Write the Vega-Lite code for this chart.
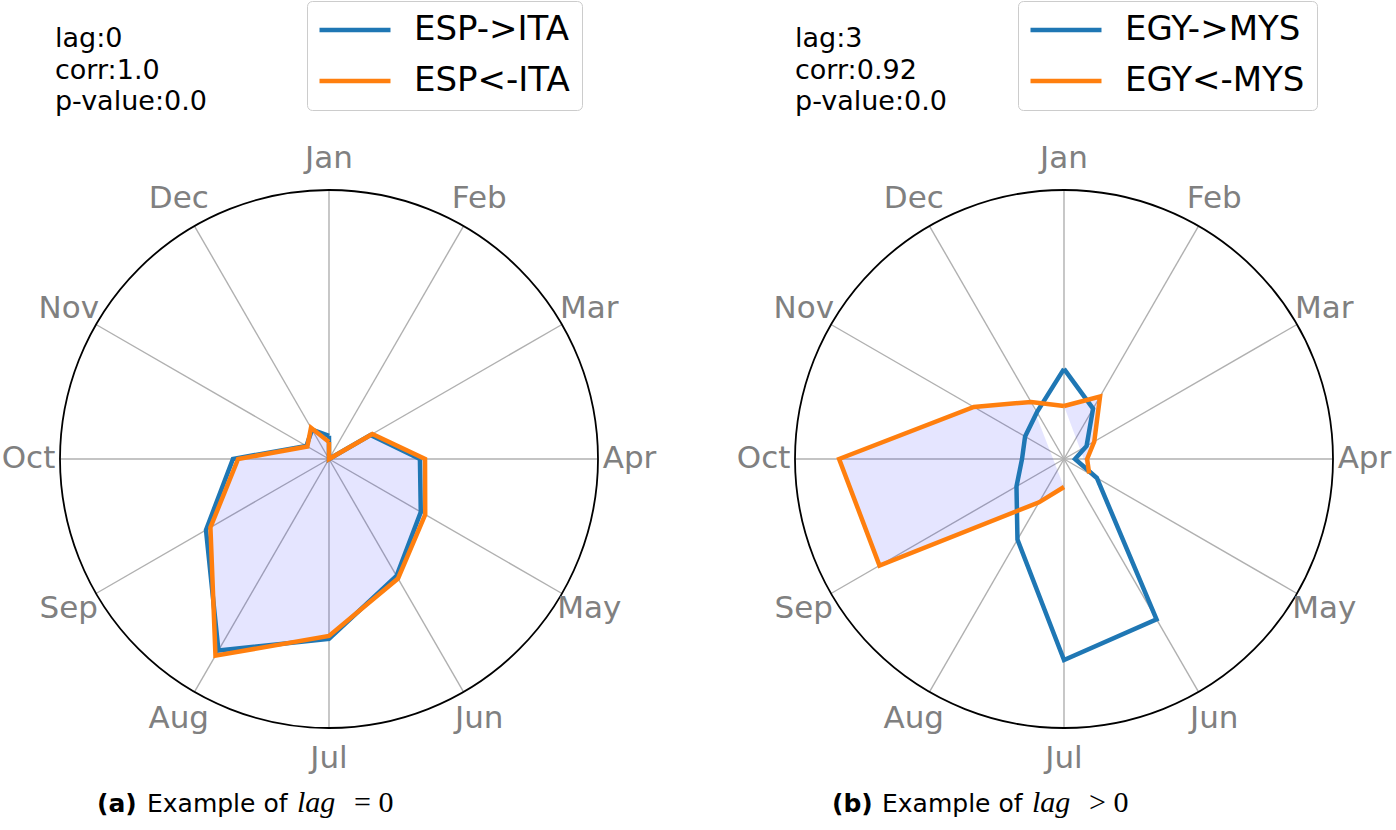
{
  "$schema": "https://vega.github.io/schema/vega-lite/v6.json",
  "background": "white",
  "padding": 0,
  "spacing": 0,
  "config": {"view": {"stroke": null}, "concat": {"spacing": 0}},
  "datasets": {
    "months": [
      {"m": "Jan", "i": 0}, {"m": "Feb", "i": 1}, {"m": "Mar", "i": 2}, {"m": "Apr", "i": 3},
      {"m": "May", "i": 4}, {"m": "Jun", "i": 5}, {"m": "Jul", "i": 6}, {"m": "Aug", "i": 7},
      {"m": "Sep", "i": 8}, {"m": "Oct", "i": 9}, {"m": "Nov", "i": 10}, {"m": "Dec", "i": 11}
    ],
    "esp": [
      {"m": "Jan", "i": 0, "s": "ESP->ITA", "v": 8.6},
      {"m": "Feb", "i": 1, "s": "ESP->ITA", "v": 0},
      {"m": "Mar", "i": 2, "s": "ESP->ITA", "v": 17.8},
      {"m": "Apr", "i": 3, "s": "ESP->ITA", "v": 33.8},
      {"m": "May", "i": 4, "s": "ESP->ITA", "v": 39.4},
      {"m": "Jun", "i": 5, "s": "ESP->ITA", "v": 50.2},
      {"m": "Jul", "i": 6, "s": "ESP->ITA", "v": 66.9},
      {"m": "Aug", "i": 7, "s": "ESP->ITA", "v": 82.2},
      {"m": "Sep", "i": 8, "s": "ESP->ITA", "v": 52.8},
      {"m": "Oct", "i": 9, "s": "ESP->ITA", "v": 35.7},
      {"m": "Nov", "i": 10, "s": "ESP->ITA", "v": 9.7},
      {"m": "Dec", "i": 11, "s": "ESP->ITA", "v": 12.6},
      {"m": "Jan", "i": 12, "s": "ESP->ITA", "v": 8.6},
      {"m": "Jan", "i": 0, "s": "ESP<-ITA", "v": 6.3},
      {"m": "Feb", "i": 1, "s": "ESP<-ITA", "v": 0},
      {"m": "Mar", "i": 2, "s": "ESP<-ITA", "v": 18.6},
      {"m": "Apr", "i": 3, "s": "ESP<-ITA", "v": 35.7},
      {"m": "May", "i": 4, "s": "ESP<-ITA", "v": 41.3},
      {"m": "Jun", "i": 5, "s": "ESP<-ITA", "v": 51.3},
      {"m": "Jul", "i": 6, "s": "ESP<-ITA", "v": 65.8},
      {"m": "Aug", "i": 7, "s": "ESP<-ITA", "v": 84.4},
      {"m": "Sep", "i": 8, "s": "ESP<-ITA", "v": 50.9},
      {"m": "Oct", "i": 9, "s": "ESP<-ITA", "v": 33.8},
      {"m": "Nov", "i": 10, "s": "ESP<-ITA", "v": 9.3},
      {"m": "Dec", "i": 11, "s": "ESP<-ITA", "v": 13.4},
      {"m": "Jan", "i": 12, "s": "ESP<-ITA", "v": 6.3}
    ],
    "egy": [
      {"m": "Jan", "i": 0, "s": "EGY->MYS", "v": 33.5},
      {"m": "Feb", "i": 1, "s": "EGY->MYS", "v": 21.6},
      {"m": "Mar", "i": 2, "s": "EGY->MYS", "v": 9.7},
      {"m": "Apr", "i": 3, "s": "EGY->MYS", "v": 4.1},
      {"m": "May", "i": 4, "s": "EGY->MYS", "v": 14.1},
      {"m": "Jun", "i": 5, "s": "EGY->MYS", "v": 68.8},
      {"m": "Jul", "i": 6, "s": "EGY->MYS", "v": 74.7},
      {"m": "Aug", "i": 7, "s": "EGY->MYS", "v": 34.6},
      {"m": "Sep", "i": 8, "s": "EGY->MYS", "v": 20.4},
      {"m": "Oct", "i": 9, "s": "EGY->MYS", "v": 15.6},
      {"m": "Nov", "i": 10, "s": "EGY->MYS", "v": 16.7},
      {"m": "Dec", "i": 11, "s": "EGY->MYS", "v": 20.1},
      {"m": "Jan", "i": 12, "s": "EGY->MYS", "v": 33.5},
      {"m": "Jan", "i": 0, "s": "EGY<-MYS", "v": 19.7},
      {"m": "Feb", "i": 1, "s": "EGY<-MYS", "v": 26.8},
      {"m": "Mar", "i": 2, "s": "EGY<-MYS", "v": 13.0},
      {"m": "Apr", "i": 3, "s": "EGY<-MYS", "v": 8.6},
      {"m": "May", "i": 4, "s": "EGY<-MYS", "v": 10.8},
      {"m": "Jun", "i": 5, "s": "EGY<-MYS", "v": null},
      {"m": "Jul", "i": 6, "s": "EGY<-MYS", "v": 10.4},
      {"m": "Aug", "i": 7, "s": "EGY<-MYS", "v": 18.6},
      {"m": "Sep", "i": 8, "s": "EGY<-MYS", "v": 79.2},
      {"m": "Oct", "i": 9, "s": "EGY<-MYS", "v": 83.6},
      {"m": "Nov", "i": 10, "s": "EGY<-MYS", "v": 38.7},
      {"m": "Dec", "i": 11, "s": "EGY<-MYS", "v": 24.5},
      {"m": "Jan", "i": 12, "s": "EGY<-MYS", "v": 19.7}
    ],
    "info_a": [{"t": "lag:0\ncorr:1.0\np-value:0.0"}],
    "info_b": [{"t": "lag:3\ncorr:0.92\np-value:0.0"}],
    "cap_a": [{"tag": "(a)", "lead": "Example of", "var": "lag", "rel": "= 0"}],
    "cap_b": [{"tag": "(b)", "lead": "Example of", "var": "lag", "rel": "> 0"}]
  },
  "hconcat": [
    {
      "width": 698,
      "height": 830,
      "layer": [
        {
          "data": {"name": "months"},
          "transform": [
            {"calculate": "0", "as": "cx"},
            {"calculate": "0", "as": "cy"},
            {"calculate": "sin(datum.i * PI / 6)", "as": "ex"},
            {"calculate": "cos(datum.i * PI / 6)", "as": "ey"}
          ],
          "mark": {"type": "rule", "color": "#b0b0b0", "strokeWidth": 1.4},
          "encoding": {
            "x": {"field": "cx", "type": "quantitative", "scale": {"domain": [-1.2230, 1.3717], "nice": false, "zero": false}, "axis": null},
            "y": {"field": "cy", "type": "quantitative", "scale": {"domain": [-1.3792, 1.7063], "nice": false, "zero": false}, "axis": null},
            "x2": {"field": "ex"},
            "y2": {"field": "ey"}
          }
        },
        {
          "data": {"values": [{}]},
          "mark": {"type": "point", "shape": "circle", "size": 289444, "filled": false, "stroke": "black", "strokeWidth": 1.8, "opacity": 1},
          "encoding": {
            "x": {"datum": 0, "type": "quantitative", "scale": {"domain": [-1.2230, 1.3717], "nice": false, "zero": false}, "axis": null},
            "y": {"datum": 0, "type": "quantitative", "scale": {"domain": [-1.3792, 1.7063], "nice": false, "zero": false}, "axis": null}
          }
        },
        {
          "data": {"name": "months"},
          "transform": [
            {"calculate": "1.117 * sin(datum.i * PI / 6)", "as": "lx"},
            {"calculate": "1.117 * cos(datum.i * PI / 6)", "as": "ly"}
          ],
          "mark": {"type": "text", "font": "DejaVu Sans", "fontSize": 31, "color": "#808080", "align": "center", "baseline": "middle"},
          "encoding": {
            "x": {"field": "lx", "type": "quantitative", "scale": {"domain": [-1.2230, 1.3717], "nice": false, "zero": false}, "axis": null},
            "y": {"field": "ly", "type": "quantitative", "scale": {"domain": [-1.3792, 1.7063], "nice": false, "zero": false}, "axis": null},
            "text": {"field": "m"}
          }
        },
        {
          "data": {"name": "esp"},
          "transform": [
            {"filter": "datum.s === 'ESP<-ITA' && datum.i < 12"},
            {"calculate": "datum.v === null ? null : datum.v / 100 * sin(datum.i * PI / 6)", "as": "px"},
            {"calculate": "datum.v === null ? null : datum.v / 100 * cos(datum.i * PI / 6)", "as": "py"}
          ],
          "mark": {"type": "line", "fill": "#0000ff", "fillOpacity": 0.1, "stroke": "transparent", "strokeWidth": 0, "invalid": "break-paths-show-domains"},
          "encoding": {
            "x": {"field": "px", "type": "quantitative", "scale": {"domain": [-1.2230, 1.3717], "nice": false, "zero": false}, "axis": null},
            "y": {"field": "py", "type": "quantitative", "scale": {"domain": [-1.3792, 1.7063], "nice": false, "zero": false}, "axis": null},
            "order": {"field": "i", "type": "quantitative"}
          }
        },
        {
          "data": {"name": "esp"},
          "transform": [
            {"calculate": "datum.v === null ? null : datum.v / 100 * sin(datum.i * PI / 6)", "as": "px"},
            {"calculate": "datum.v === null ? null : datum.v / 100 * cos(datum.i * PI / 6)", "as": "py"}
          ],
          "mark": {"type": "line", "strokeWidth": 4.5, "invalid": "break-paths-show-domains"},
          "encoding": {
            "x": {"field": "px", "type": "quantitative", "scale": {"domain": [-1.2230, 1.3717], "nice": false, "zero": false}, "axis": null},
            "y": {"field": "py", "type": "quantitative", "scale": {"domain": [-1.3792, 1.7063], "nice": false, "zero": false}, "axis": null},
            "order": {"field": "i", "type": "quantitative"},
            "color": {
              "field": "s", "type": "nominal",
              "scale": {"domain": ["ESP->ITA", "ESP<-ITA"], "range": ["#1f77b4", "#ff7f0e"]},
              "legend": {
                "orient": "none", "legendX": 307, "legendY": 1, "direction": "vertical", "title": null,
                "symbolType": "M-3,0H3", "symbolSize": 560, "symbolStrokeWidth": 4.5, "symbolOffset": 19,
                "labelOffset": 42, "labelFontSize": 34, "labelFont": "DejaVu Sans", "labelColor": "black", "labelLimit": 400,
                "rowPadding": 17, "padding": 12, "strokeColor": "#cccccc", "cornerRadius": 5, "fillColor": "white"
              }
            }
          }
        },
        {
          "data": {"name": "info_a"},
          "mark": {"type": "text", "font": "DejaVu Sans", "fontSize": 27, "lineHeight": 31.5, "lineBreak": "\n", "align": "left", "baseline": "top", "color": "black"},
          "encoding": {
            "x": {"datum": -1.0186, "type": "quantitative", "scale": {"domain": [-1.2230, 1.3717], "nice": false, "zero": false}, "axis": null},
            "y": {"datum": 1.6096, "type": "quantitative", "scale": {"domain": [-1.3792, 1.7063], "nice": false, "zero": false}, "axis": null},
            "text": {"field": "t"}
          }
        },
        {
          "data": {"name": "cap_a"},
          "mark": {"type": "text", "font": "DejaVu Sans", "fontWeight": "bold", "fontSize": 25, "align": "left", "baseline": "alphabetic", "color": "black"},
          "encoding": {
            "x": {"datum": -0.8625, "type": "quantitative", "scale": {"domain": [-1.2230, 1.3717], "nice": false, "zero": false}, "axis": null},
            "y": {"datum": -1.3123, "type": "quantitative", "scale": {"domain": [-1.3792, 1.7063], "nice": false, "zero": false}, "axis": null},
            "text": {"field": "tag"}
          }
        },
        {
          "data": {"name": "cap_a"},
          "mark": {"type": "text", "font": "DejaVu Sans", "fontSize": 25, "align": "left", "baseline": "alphabetic", "color": "black"},
          "encoding": {
            "x": {"datum": -0.6766, "type": "quantitative", "scale": {"domain": [-1.2230, 1.3717], "nice": false, "zero": false}, "axis": null},
            "y": {"datum": -1.3123, "type": "quantitative", "scale": {"domain": [-1.3792, 1.7063], "nice": false, "zero": false}, "axis": null},
            "text": {"field": "lead"}
          }
        },
        {
          "data": {"name": "cap_a"},
          "mark": {"type": "text", "font": "Liberation Serif", "fontStyle": "italic", "fontSize": 30, "align": "left", "baseline": "alphabetic", "color": "black"},
          "encoding": {
            "x": {"datum": -0.1190, "type": "quantitative", "scale": {"domain": [-1.2230, 1.3717], "nice": false, "zero": false}, "axis": null},
            "y": {"datum": -1.3123, "type": "quantitative", "scale": {"domain": [-1.3792, 1.7063], "nice": false, "zero": false}, "axis": null},
            "text": {"field": "var"}
          }
        },
        {
          "data": {"name": "cap_a"},
          "mark": {"type": "text", "font": "Liberation Serif", "fontSize": 30, "align": "left", "baseline": "alphabetic", "color": "black"},
          "encoding": {
            "x": {"datum": 0.0930, "type": "quantitative", "scale": {"domain": [-1.2230, 1.3717], "nice": false, "zero": false}, "axis": null},
            "y": {"datum": -1.3123, "type": "quantitative", "scale": {"domain": [-1.3792, 1.7063], "nice": false, "zero": false}, "axis": null},
            "text": {"field": "rel"}
          }
        }
      ]
    },
    {
      "width": 698,
      "height": 830,
      "layer": [
        {
          "data": {"name": "months"},
          "transform": [
            {"calculate": "0", "as": "cx"},
            {"calculate": "0", "as": "cy"},
            {"calculate": "sin(datum.i * PI / 6)", "as": "ex"},
            {"calculate": "cos(datum.i * PI / 6)", "as": "ey"}
          ],
          "mark": {"type": "rule", "color": "#b0b0b0", "strokeWidth": 1.4},
          "encoding": {
            "x": {"field": "cx", "type": "quantitative", "scale": {"domain": [-1.3606, 1.2342], "nice": false, "zero": false}, "axis": null},
            "y": {"field": "cy", "type": "quantitative", "scale": {"domain": [-1.3792, 1.7063], "nice": false, "zero": false}, "axis": null},
            "x2": {"field": "ex"},
            "y2": {"field": "ey"}
          }
        },
        {
          "data": {"values": [{}]},
          "mark": {"type": "point", "shape": "circle", "size": 289444, "filled": false, "stroke": "black", "strokeWidth": 1.8, "opacity": 1},
          "encoding": {
            "x": {"datum": 0, "type": "quantitative", "scale": {"domain": [-1.3606, 1.2342], "nice": false, "zero": false}, "axis": null},
            "y": {"datum": 0, "type": "quantitative", "scale": {"domain": [-1.3792, 1.7063], "nice": false, "zero": false}, "axis": null}
          }
        },
        {
          "data": {"name": "months"},
          "transform": [
            {"calculate": "1.117 * sin(datum.i * PI / 6)", "as": "lx"},
            {"calculate": "1.117 * cos(datum.i * PI / 6)", "as": "ly"}
          ],
          "mark": {"type": "text", "font": "DejaVu Sans", "fontSize": 31, "color": "#808080", "align": "center", "baseline": "middle"},
          "encoding": {
            "x": {"field": "lx", "type": "quantitative", "scale": {"domain": [-1.3606, 1.2342], "nice": false, "zero": false}, "axis": null},
            "y": {"field": "ly", "type": "quantitative", "scale": {"domain": [-1.3792, 1.7063], "nice": false, "zero": false}, "axis": null},
            "text": {"field": "m"}
          }
        },
        {
          "data": {"name": "egy"},
          "transform": [
            {"filter": "datum.s === 'EGY<-MYS' && datum.i < 12"},
            {"calculate": "datum.v === null ? null : datum.v / 100 * sin(datum.i * PI / 6)", "as": "px"},
            {"calculate": "datum.v === null ? null : datum.v / 100 * cos(datum.i * PI / 6)", "as": "py"}
          ],
          "mark": {"type": "line", "fill": "#0000ff", "fillOpacity": 0.1, "stroke": "transparent", "strokeWidth": 0, "invalid": "break-paths-show-domains"},
          "encoding": {
            "x": {"field": "px", "type": "quantitative", "scale": {"domain": [-1.3606, 1.2342], "nice": false, "zero": false}, "axis": null},
            "y": {"field": "py", "type": "quantitative", "scale": {"domain": [-1.3792, 1.7063], "nice": false, "zero": false}, "axis": null},
            "order": {"field": "i", "type": "quantitative"}
          }
        },
        {
          "data": {"name": "egy"},
          "transform": [
            {"calculate": "datum.v === null ? null : datum.v / 100 * sin(datum.i * PI / 6)", "as": "px"},
            {"calculate": "datum.v === null ? null : datum.v / 100 * cos(datum.i * PI / 6)", "as": "py"}
          ],
          "mark": {"type": "line", "strokeWidth": 4.5, "invalid": "break-paths-show-domains"},
          "encoding": {
            "x": {"field": "px", "type": "quantitative", "scale": {"domain": [-1.3606, 1.2342], "nice": false, "zero": false}, "axis": null},
            "y": {"field": "py", "type": "quantitative", "scale": {"domain": [-1.3792, 1.7063], "nice": false, "zero": false}, "axis": null},
            "order": {"field": "i", "type": "quantitative"},
            "color": {
              "field": "s", "type": "nominal",
              "scale": {"domain": ["EGY->MYS", "EGY<-MYS"], "range": ["#1f77b4", "#ff7f0e"]},
              "legend": {
                "orient": "none", "legendX": 320, "legendY": 1, "direction": "vertical", "title": null,
                "symbolType": "M-3,0H3", "symbolSize": 560, "symbolStrokeWidth": 4.5, "symbolOffset": 19,
                "labelOffset": 42, "labelFontSize": 34, "labelFont": "DejaVu Sans", "labelColor": "black", "labelLimit": 400,
                "rowPadding": 17, "padding": 12, "strokeColor": "#cccccc", "cornerRadius": 5, "fillColor": "white"
              }
            }
          }
        },
        {
          "data": {"name": "info_b"},
          "mark": {"type": "text", "font": "DejaVu Sans", "fontSize": 27, "lineHeight": 31.5, "lineBreak": "\n", "align": "left", "baseline": "top", "color": "black"},
          "encoding": {
            "x": {"datum": -1.0, "type": "quantitative", "scale": {"domain": [-1.3606, 1.2342], "nice": false, "zero": false}, "axis": null},
            "y": {"datum": 1.6096, "type": "quantitative", "scale": {"domain": [-1.3792, 1.7063], "nice": false, "zero": false}, "axis": null},
            "text": {"field": "t"}
          }
        },
        {
          "data": {"name": "cap_b"},
          "mark": {"type": "text", "font": "DejaVu Sans", "fontWeight": "bold", "fontSize": 25, "align": "left", "baseline": "alphabetic", "color": "black"},
          "encoding": {
            "x": {"datum": -0.8625, "type": "quantitative", "scale": {"domain": [-1.3606, 1.2342], "nice": false, "zero": false}, "axis": null},
            "y": {"datum": -1.3123, "type": "quantitative", "scale": {"domain": [-1.3792, 1.7063], "nice": false, "zero": false}, "axis": null},
            "text": {"field": "tag"}
          }
        },
        {
          "data": {"name": "cap_b"},
          "mark": {"type": "text", "font": "DejaVu Sans", "fontSize": 25, "align": "left", "baseline": "alphabetic", "color": "black"},
          "encoding": {
            "x": {"datum": -0.6766, "type": "quantitative", "scale": {"domain": [-1.3606, 1.2342], "nice": false, "zero": false}, "axis": null},
            "y": {"datum": -1.3123, "type": "quantitative", "scale": {"domain": [-1.3792, 1.7063], "nice": false, "zero": false}, "axis": null},
            "text": {"field": "lead"}
          }
        },
        {
          "data": {"name": "cap_b"},
          "mark": {"type": "text", "font": "Liberation Serif", "fontStyle": "italic", "fontSize": 30, "align": "left", "baseline": "alphabetic", "color": "black"},
          "encoding": {
            "x": {"datum": -0.1190, "type": "quantitative", "scale": {"domain": [-1.3606, 1.2342], "nice": false, "zero": false}, "axis": null},
            "y": {"datum": -1.3123, "type": "quantitative", "scale": {"domain": [-1.3792, 1.7063], "nice": false, "zero": false}, "axis": null},
            "text": {"field": "var"}
          }
        },
        {
          "data": {"name": "cap_b"},
          "mark": {"type": "text", "font": "Liberation Serif", "fontSize": 30, "align": "left", "baseline": "alphabetic", "color": "black"},
          "encoding": {
            "x": {"datum": 0.0930, "type": "quantitative", "scale": {"domain": [-1.3606, 1.2342], "nice": false, "zero": false}, "axis": null},
            "y": {"datum": -1.3123, "type": "quantitative", "scale": {"domain": [-1.3792, 1.7063], "nice": false, "zero": false}, "axis": null},
            "text": {"field": "rel"}
          }
        }
      ]
    }
  ],
  "resolve": {
    "scale": {"x": "independent", "y": "independent", "color": "independent"},
    "legend": {"color": "independent"}
  }
}
